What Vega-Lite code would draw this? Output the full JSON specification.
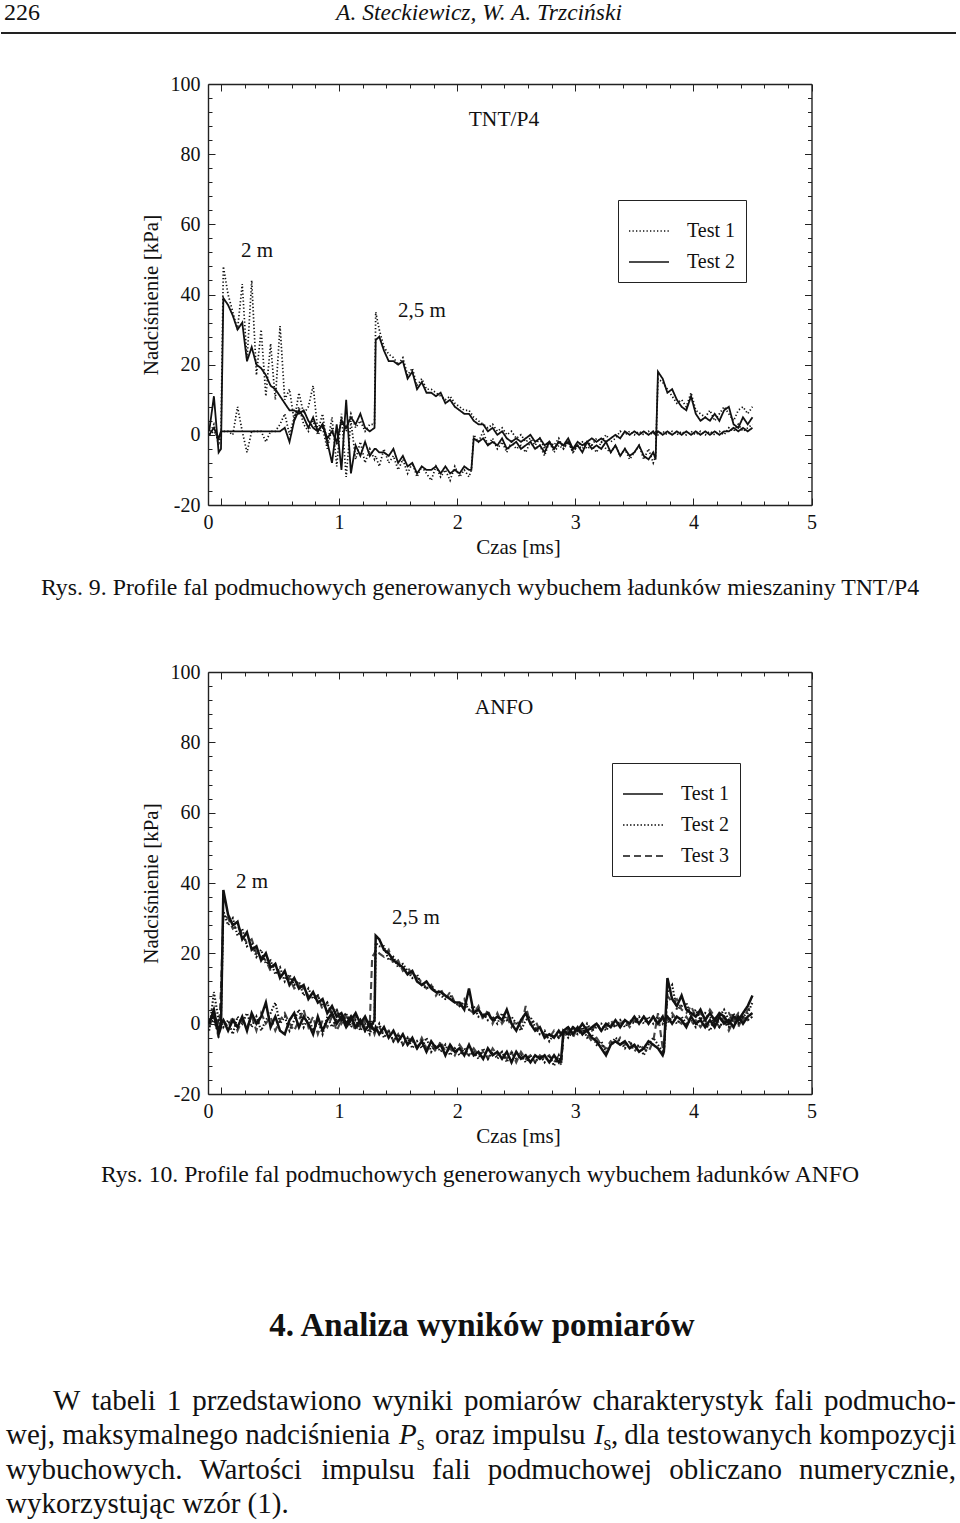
{
"$schema": "https://vega.github.io/schema/vega-lite/v6.json",
"padding": 0,
"background": "white",
"spacing": 0,
"bounds": "flush",
"resolve": {"scale": {"strokeDash": "independent"}, "legend": {"strokeDash": "independent"}},
"config": {
  "font": "Liberation Serif",
  "view": {"stroke": null},
  "axis": {"labelFont": "Liberation Serif", "labelFontSize": 20, "labelColor": "#111", "titleFont": "Liberation Serif", "titleFontSize": 21, "titleFontWeight": "normal", "titleColor": "#111", "domainColor": "#222", "domainWidth": 1.4, "tickColor": "#222", "tickWidth": 1, "grid": false, "labelFlush": false, "labelOverlap": false, "labelBound": false},
  "legend": {"labelFont": "Liberation Serif", "labelFontSize": 20, "labelColor": "#111"},
  "text": {"font": "Liberation Serif", "color": "#111"}
},
"datasets": {
"tnt": [
{"t":-0.10,"a":0,"b":0,"c":1,"d":0},
{"t":-0.06,"a":3,"b":1,"c":11,"d":2},
{"t":-0.02,"a":-3,"b":-1,"c":-5,"d":-1},
{"t":0.00,"a":0,"b":1,"c":-4,"d":1},
{"t":0.02,"a":48,"b":1,"c":39,"d":1},
{"t":0.06,"a":40,"b":1,"c":37,"d":1},
{"t":0.10,"a":35,"b":0,"c":34,"d":1},
{"t":0.14,"a":30,"b":8,"c":30,"d":1},
{"t":0.18,"a":43,"b":1,"c":32,"d":1},
{"t":0.22,"a":21,"b":-5,"c":21,"d":1},
{"t":0.26,"a":44,"b":1,"c":25,"d":1},
{"t":0.30,"a":17,"b":1,"c":20,"d":1},
{"t":0.34,"a":30,"b":1,"c":19,"d":1},
{"t":0.38,"a":11,"b":-2,"c":17,"d":1},
{"t":0.42,"a":26,"b":1,"c":14,"d":1},
{"t":0.46,"a":10,"b":1,"c":13,"d":1},
{"t":0.50,"a":31,"b":3,"c":11,"d":1},
{"t":0.54,"a":10,"b":6,"c":9,"d":2},
{"t":0.58,"a":13,"b":0,"c":7,"d":-2},
{"t":0.62,"a":4,"b":5,"c":7,"d":4},
{"t":0.66,"a":12,"b":8,"c":6,"d":7},
{"t":0.70,"a":6,"b":3,"c":7,"d":5},
{"t":0.74,"a":8,"b":1,"c":4,"d":2},
{"t":0.78,"a":14,"b":4,"c":2,"d":5},
{"t":0.82,"a":1,"b":0,"c":1,"d":1},
{"t":0.86,"a":6,"b":2,"c":3,"d":3},
{"t":0.90,"a":-3,"b":-4,"c":-2,"d":-1},
{"t":0.94,"a":5,"b":2,"c":-8,"d":1},
{"t":0.98,"a":-9,"b":-3,"c":3,"d":-2},
{"t":1.02,"a":6,"b":5,"c":-10,"d":4},
{"t":1.06,"a":-12,"b":1,"c":10,"d":2},
{"t":1.10,"a":4,"b":6,"c":-11,"d":5},
{"t":1.14,"a":-7,"b":2,"c":-3,"d":3},
{"t":1.18,"a":-2,"b":4,"c":-6,"d":6},
{"t":1.22,"a":-8,"b":1,"c":-2,"d":2},
{"t":1.26,"a":-4,"b":3,"c":-6,"d":1},
{"t":1.30,"a":-7,"b":3,"c":-4,"d":2},
{"t":1.31,"a":-6,"b":35,"c":-4,"d":27},
{"t":1.34,"a":-9,"b":30,"c":-5,"d":28},
{"t":1.38,"a":-4,"b":25,"c":-5,"d":24},
{"t":1.42,"a":-8,"b":23,"c":-6,"d":21},
{"t":1.46,"a":-6,"b":22,"c":-4,"d":21},
{"t":1.50,"a":-10,"b":20,"c":-8,"d":20},
{"t":1.54,"a":-7,"b":22,"c":-6,"d":21},
{"t":1.58,"a":-11,"b":17,"c":-9,"d":16},
{"t":1.62,"a":-8,"b":19,"c":-8,"d":18},
{"t":1.66,"a":-12,"b":14,"c":-11,"d":13},
{"t":1.70,"a":-9,"b":16,"c":-9,"d":15},
{"t":1.74,"a":-11,"b":13,"c":-10,"d":12},
{"t":1.78,"a":-13,"b":13,"c":-10,"d":12},
{"t":1.82,"a":-9,"b":12,"c":-9,"d":11},
{"t":1.86,"a":-12,"b":11,"c":-11,"d":12},
{"t":1.90,"a":-10,"b":10,"c":-9,"d":9},
{"t":1.94,"a":-13,"b":11,"c":-11,"d":10},
{"t":1.98,"a":-9,"b":9,"c":-10,"d":8},
{"t":2.02,"a":-12,"b":8,"c":-11,"d":7},
{"t":2.06,"a":-10,"b":7,"c":-9,"d":6},
{"t":2.10,"a":-12,"b":7,"c":-10,"d":6},
{"t":2.12,"a":-10,"b":6,"c":-10,"d":5},
{"t":2.14,"a":0,"b":5,"c":-1,"d":4},
{"t":2.18,"a":-2,"b":4,"c":-2,"d":3},
{"t":2.22,"a":1,"b":3,"c":-1,"d":3},
{"t":2.26,"a":-3,"b":2,"c":-3,"d":1},
{"t":2.30,"a":-1,"b":3,"c":-2,"d":2},
{"t":2.34,"a":-4,"b":1,"c":-3,"d":0},
{"t":2.38,"a":-2,"b":2,"c":-1,"d":1},
{"t":2.42,"a":-5,"b":0,"c":-4,"d":-1},
{"t":2.46,"a":-2,"b":1,"c":-3,"d":-2},
{"t":2.50,"a":-4,"b":-1,"c":-2,"d":-1},
{"t":2.54,"a":-3,"b":0,"c":-4,"d":-2},
{"t":2.58,"a":-5,"b":-2,"c":-3,"d":-1},
{"t":2.62,"a":-2,"b":-1,"c":-2,"d":0},
{"t":2.66,"a":-4,"b":-3,"c":-4,"d":-2},
{"t":2.70,"a":-3,"b":-1,"c":-3,"d":-1},
{"t":2.74,"a":-6,"b":-4,"c":-5,"d":-3},
{"t":2.78,"a":-2,"b":-2,"c":-2,"d":-2},
{"t":2.82,"a":-5,"b":-3,"c":-4,"d":-4},
{"t":2.86,"a":-3,"b":-1,"c":-2,"d":-2},
{"t":2.90,"a":-4,"b":-4,"c":-3,"d":-3},
{"t":2.94,"a":-2,"b":-2,"c":-1,"d":-2},
{"t":2.98,"a":-5,"b":-5,"c":-4,"d":-4},
{"t":3.02,"a":-3,"b":-3,"c":-2,"d":-3},
{"t":3.06,"a":-4,"b":-2,"c":-3,"d":-5},
{"t":3.10,"a":-2,"b":-4,"c":-2,"d":-2},
{"t":3.14,"a":-3,"b":-3,"c":-1,"d":-4},
{"t":3.18,"a":-1,"b":-5,"c":-2,"d":-3},
{"t":3.22,"a":-2,"b":-2,"c":-1,"d":-4},
{"t":3.26,"a":0,"b":-4,"c":-2,"d":-2},
{"t":3.30,"a":-2,"b":-5,"c":-1,"d":-5},
{"t":3.34,"a":-1,"b":-3,"c":0,"d":-3},
{"t":3.38,"a":1,"b":-6,"c":-1,"d":-6},
{"t":3.42,"a":0,"b":-4,"c":1,"d":-4},
{"t":3.46,"a":1,"b":-7,"c":0,"d":-6},
{"t":3.50,"a":0,"b":-5,"c":1,"d":-5},
{"t":3.54,"a":1,"b":-3,"c":0,"d":-3},
{"t":3.58,"a":0,"b":-7,"c":1,"d":-6},
{"t":3.62,"a":1,"b":-4,"c":0,"d":-7},
{"t":3.66,"a":0,"b":-8,"c":1,"d":-5},
{"t":3.68,"a":1,"b":-6,"c":0,"d":-7},
{"t":3.70,"a":0,"b":16,"c":1,"d":18},
{"t":3.74,"a":1,"b":15,"c":0,"d":16},
{"t":3.78,"a":0,"b":13,"c":1,"d":12},
{"t":3.82,"a":1,"b":11,"c":0,"d":13},
{"t":3.86,"a":0,"b":9,"c":1,"d":10},
{"t":3.90,"a":1,"b":10,"c":0,"d":8},
{"t":3.94,"a":0,"b":8,"c":1,"d":7},
{"t":3.98,"a":1,"b":12,"c":0,"d":11},
{"t":4.02,"a":0,"b":7,"c":1,"d":6},
{"t":4.06,"a":1,"b":6,"c":0,"d":4},
{"t":4.10,"a":0,"b":5,"c":1,"d":5},
{"t":4.14,"a":1,"b":7,"c":0,"d":4},
{"t":4.18,"a":0,"b":4,"c":1,"d":6},
{"t":4.22,"a":1,"b":6,"c":0,"d":4},
{"t":4.26,"a":0,"b":8,"c":1,"d":7},
{"t":4.30,"a":2,"b":6,"c":1,"d":8},
{"t":4.34,"a":1,"b":4,"c":2,"d":3},
{"t":4.38,"a":3,"b":7,"c":1,"d":2},
{"t":4.42,"a":1,"b":8,"c":2,"d":5},
{"t":4.46,"a":2,"b":6,"c":1,"d":3},
{"t":4.50,"a":3,"b":8,"c":2,"d":5}
],
"anfo": [
{"t":-0.10,"e":0,"f":1,"g":-2,"h":0,"i":1,"j":-1},
{"t":-0.06,"e":4,"f":2,"g":9,"h":1,"i":2,"j":3},
{"t":-0.02,"e":-3,"f":-2,"g":1,"h":-3,"i":-4,"j":0},
{"t":0.00,"e":-1,"f":0,"g":2,"h":1,"i":10,"j":0},
{"t":0.02,"e":38,"f":1,"g":32,"h":-1,"i":31,"j":1},
{"t":0.06,"e":31,"f":-2,"g":28,"h":1,"i":30,"j":-1},
{"t":0.10,"e":28,"f":1,"g":30,"h":-3,"i":27,"j":2},
{"t":0.14,"e":29,"f":-1,"g":25,"h":2,"i":28,"j":-2},
{"t":0.18,"e":24,"f":2,"g":27,"h":0,"i":25,"j":1},
{"t":0.22,"e":26,"f":-2,"g":22,"h":3,"i":23,"j":-1},
{"t":0.26,"e":21,"f":3,"g":23,"h":-1,"i":24,"j":2},
{"t":0.30,"e":22,"f":0,"g":19,"h":2,"i":20,"j":-2},
{"t":0.34,"e":18,"f":2,"g":21,"h":-2,"i":19,"j":3},
{"t":0.38,"e":20,"f":6,"g":17,"h":1,"i":18,"j":0},
{"t":0.42,"e":16,"f":-1,"g":18,"h":3,"i":15,"j":2},
{"t":0.46,"e":17,"f":2,"g":14,"h":6,"i":17,"j":-2},
{"t":0.50,"e":13,"f":-2,"g":16,"h":0,"i":14,"j":1},
{"t":0.54,"e":15,"f":-3,"g":12,"h":2,"i":13,"j":3},
{"t":0.58,"e":11,"f":1,"g":14,"h":-2,"i":13,"j":0},
{"t":0.62,"e":13,"f":3,"g":11,"h":1,"i":10,"j":-2},
{"t":0.66,"e":10,"f":-1,"g":12,"h":4,"i":11,"j":1},
{"t":0.70,"e":11,"f":2,"g":8,"h":-1,"i":10,"j":4},
{"t":0.74,"e":7,"f":0,"g":10,"h":2,"i":8,"j":-1},
{"t":0.78,"e":9,"f":-3,"g":7,"h":-2,"i":7,"j":2},
{"t":0.82,"e":6,"f":2,"g":8,"h":1,"i":8,"j":-3},
{"t":0.86,"e":7,"f":-2,"g":5,"h":-3,"i":4,"j":1},
{"t":0.90,"e":3,"f":1,"g":6,"h":2,"i":6,"j":-1},
{"t":0.94,"e":5,"f":3,"g":2,"h":-1,"i":3,"j":2},
{"t":0.98,"e":2,"f":0,"g":4,"h":1,"i":4,"j":-2},
{"t":1.02,"e":3,"f":2,"g":1,"h":3,"i":0,"j":1},
{"t":1.06,"e":0,"f":-1,"g":3,"h":0,"i":2,"j":3},
{"t":1.10,"e":2,"f":1,"g":-1,"h":2,"i":1,"j":0},
{"t":1.14,"e":-1,"f":3,"g":1,"h":-1,"i":-2,"j":2},
{"t":1.18,"e":1,"f":0,"g":-2,"h":1,"i":1,"j":-1},
{"t":1.22,"e":-2,"f":2,"g":0,"h":-2,"i":-1,"j":1},
{"t":1.26,"e":0,"f":-1,"g":-3,"h":1,"i":-2,"j":0},
{"t":1.28,"e":-1,"f":0,"g":-1,"h":0,"i":-1,"j":19},
{"t":1.30,"e":-2,"f":1,"g":-2,"h":0,"i":-3,"j":20},
{"t":1.31,"e":-1,"f":25,"g":-2,"h":23,"i":-2,"j":21},
{"t":1.34,"e":-3,"f":24,"g":0,"h":22,"i":-1,"j":20},
{"t":1.38,"e":-1,"f":21,"g":-4,"h":22,"i":-3,"j":19},
{"t":1.42,"e":-4,"f":20,"g":-2,"h":18,"i":-2,"j":21},
{"t":1.46,"e":-2,"f":18,"g":-5,"h":19,"i":-5,"j":17},
{"t":1.50,"e":-5,"f":17,"g":-3,"h":16,"i":-3,"j":18},
{"t":1.54,"e":-3,"f":16,"g":-6,"h":17,"i":-6,"j":15},
{"t":1.58,"e":-6,"f":14,"g":-4,"h":15,"i":-4,"j":16},
{"t":1.62,"e":-4,"f":15,"g":-7,"h":13,"i":-5,"j":14},
{"t":1.66,"e":-7,"f":12,"g":-5,"h":14,"i":-7,"j":13},
{"t":1.70,"e":-5,"f":11,"g":-7,"h":11,"i":-4,"j":12},
{"t":1.74,"e":-8,"f":12,"g":-4,"h":10,"i":-7,"j":10},
{"t":1.78,"e":-5,"f":10,"g":-8,"h":11,"i":-6,"j":11},
{"t":1.82,"e":-7,"f":9,"g":-6,"h":9,"i":-8,"j":8},
{"t":1.86,"e":-6,"f":9,"g":-8,"h":8,"i":-5,"j":10},
{"t":1.90,"e":-9,"f":8,"g":-6,"h":7,"i":-8,"j":7},
{"t":1.94,"e":-6,"f":7,"g":-9,"h":8,"i":-7,"j":9},
{"t":1.98,"e":-8,"f":6,"g":-7,"h":6,"i":-9,"j":6},
{"t":2.02,"e":-7,"f":6,"g":-9,"h":5,"i":-6,"j":5},
{"t":2.06,"e":-9,"f":4,"g":-7,"h":6,"i":-8,"j":7},
{"t":2.10,"e":-6,"f":10,"g":-9,"h":4,"i":-9,"j":4},
{"t":2.14,"e":-9,"f":3,"g":-8,"h":5,"i":-7,"j":3},
{"t":2.18,"e":-8,"f":4,"g":-10,"h":2,"i":-9,"j":5},
{"t":2.22,"e":-10,"f":2,"g":-7,"h":3,"i":-8,"j":1},
{"t":2.26,"e":-7,"f":3,"g":-10,"h":1,"i":-10,"j":4},
{"t":2.30,"e":-9,"f":1,"g":-8,"h":2,"i":-7,"j":0},
{"t":2.34,"e":-8,"f":2,"g":-10,"h":0,"i":-9,"j":3},
{"t":2.38,"e":-10,"f":1,"g":-8,"h":3,"i":-8,"j":0},
{"t":2.42,"e":-8,"f":4,"g":-11,"h":1,"i":-10,"j":2},
{"t":2.46,"e":-11,"f":0,"g":-8,"h":2,"i":-8,"j":-1},
{"t":2.50,"e":-8,"f":-2,"g":-10,"h":0,"i":-11,"j":1},
{"t":2.54,"e":-10,"f":1,"g":-9,"h":-2,"i":-8,"j":-1},
{"t":2.58,"e":-9,"f":3,"g":-11,"h":1,"i":-10,"j":5},
{"t":2.62,"e":-11,"f":0,"g":-9,"h":2,"i":-9,"j":0},
{"t":2.66,"e":-9,"f":-2,"g":-11,"h":-1,"i":-11,"j":1},
{"t":2.70,"e":-10,"f":-1,"g":-9,"h":-3,"i":-9,"j":-2},
{"t":2.74,"e":-9,"f":-4,"g":-11,"h":-2,"i":-10,"j":-3},
{"t":2.78,"e":-11,"f":-3,"g":-9,"h":-5,"i":-9,"j":-4},
{"t":2.82,"e":-9,"f":-4,"g":-12,"h":-3,"i":-11,"j":-2},
{"t":2.86,"e":-11,"f":-2,"g":-9,"h":-4,"i":-9,"j":-4},
{"t":2.88,"e":-10,"f":-3,"g":-11,"h":-3,"i":-12,"j":-3},
{"t":2.90,"e":-2,"f":-2,"g":-3,"h":-2,"i":-3,"j":-3},
{"t":2.94,"e":-3,"f":-1,"g":-1,"h":-4,"i":-2,"j":-2},
{"t":2.98,"e":-1,"f":-3,"g":-3,"h":-2,"i":-4,"j":-1},
{"t":3.02,"e":-2,"f":-1,"g":-1,"h":-3,"i":-1,"j":-3},
{"t":3.06,"e":0,"f":-3,"g":-3,"h":-1,"i":-3,"j":-2},
{"t":3.10,"e":-2,"f":-2,"g":0,"h":-4,"i":-1,"j":-3},
{"t":3.14,"e":-1,"f":-4,"g":-2,"h":-3,"i":-2,"j":-5},
{"t":3.18,"e":0,"f":-5,"g":-1,"h":-6,"i":0,"j":-4},
{"t":3.22,"e":-2,"f":-7,"g":0,"h":-5,"i":-2,"j":-6},
{"t":3.26,"e":0,"f":-9,"g":-2,"h":-8,"i":-1,"j":-7},
{"t":3.30,"e":-1,"f":-6,"g":0,"h":-6,"i":1,"j":-5},
{"t":3.34,"e":1,"f":-5,"g":-1,"h":-4,"i":-1,"j":-6},
{"t":3.38,"e":-1,"f":-6,"g":1,"h":-5,"i":0,"j":-4},
{"t":3.42,"e":1,"f":-5,"g":-1,"h":-7,"i":1,"j":-6},
{"t":3.46,"e":0,"f":-7,"g":1,"h":-5,"i":-1,"j":-5},
{"t":3.50,"e":2,"f":-6,"g":0,"h":-7,"i":1,"j":-8},
{"t":3.54,"e":0,"f":-8,"g":2,"h":-6,"i":0,"j":-6},
{"t":3.58,"e":2,"f":-7,"g":0,"h":-9,"i":2,"j":-7},
{"t":3.62,"e":0,"f":-5,"g":2,"h":-6,"i":0,"j":-8},
{"t":3.66,"e":2,"f":-6,"g":0,"h":-4,"i":2,"j":-5},
{"t":3.70,"e":0,"f":-7,"g":2,"h":-6,"i":0,"j":3},
{"t":3.74,"e":2,"f":-9,"g":0,"h":-8,"i":2,"j":-7},
{"t":3.75,"e":1,"f":-8,"g":1,"h":-8,"i":1,"j":-8},
{"t":3.78,"e":2,"f":13,"g":0,"h":9,"i":1,"j":8},
{"t":3.82,"e":0,"f":7,"g":2,"h":11,"i":3,"j":6},
{"t":3.86,"e":2,"f":5,"g":0,"h":4,"i":1,"j":7},
{"t":3.90,"e":1,"f":8,"g":2,"h":5,"i":0,"j":4},
{"t":3.94,"e":-1,"f":4,"g":0,"h":6,"i":2,"j":3},
{"t":3.98,"e":2,"f":3,"g":1,"h":2,"i":0,"j":5},
{"t":4.02,"e":0,"f":2,"g":-1,"h":4,"i":1,"j":2},
{"t":4.06,"e":1,"f":4,"g":2,"h":1,"i":-1,"j":3},
{"t":4.10,"e":-1,"f":1,"g":0,"h":3,"i":1,"j":1},
{"t":4.14,"e":1,"f":3,"g":-2,"h":2,"i":-1,"j":4},
{"t":4.18,"e":-1,"f":1,"g":1,"h":0,"i":1,"j":2},
{"t":4.22,"e":2,"f":3,"g":-1,"h":2,"i":-1,"j":0},
{"t":4.26,"e":0,"f":2,"g":1,"h":4,"i":1,"j":2},
{"t":4.30,"e":1,"f":0,"g":-1,"h":1,"i":-2,"j":3},
{"t":4.34,"e":-1,"f":2,"g":2,"h":3,"i":1,"j":1},
{"t":4.38,"e":2,"f":1,"g":0,"h":0,"i":-1,"j":3},
{"t":4.42,"e":0,"f":3,"g":2,"h":2,"i":2,"j":1},
{"t":4.46,"e":2,"f":5,"g":1,"h":3,"i":1,"j":4},
{"t":4.50,"e":3,"f":8,"g":2,"h":6,"i":2,"j":5}
]
},
"vconcat": [
{
 "width": 960, "height": 84,
 "data": {"values": [{}]},
 "layer": [
  {"mark": {"type": "text", "text": "226", "fontSize": 24, "align": "left", "baseline": "alphabetic"},
   "encoding": {"x": {"datum": 3, "type": "quantitative", "scale": {"domain": [0, 960], "nice": false, "zero": false}, "axis": null}, "y": {"datum": 20, "type": "quantitative", "scale": {"domain": [0, 84], "nice": false, "zero": false, "reverse": true}, "axis": null}}},
  {"mark": {"type": "text", "text": "A. Steckiewicz, W. A. Trzciński", "fontSize": 23.5, "fontStyle": "italic", "align": "center", "baseline": "alphabetic"},
   "encoding": {"x": {"datum": 478, "type": "quantitative", "axis": null}, "y": {"datum": 20, "type": "quantitative", "axis": null}}},
  {"mark": {"type": "rule", "strokeWidth": 1.8, "color": "#222"},
   "encoding": {"x": {"datum": 0, "type": "quantitative", "axis": null}, "x2": {"datum": 955}, "y": {"datum": 33, "type": "quantitative", "axis": null}}}
 ]
},
{
 "width": 960, "height": 421,
 "layer": [
  {"data": {"name": "tnt"}, "transform": [{"fold": ["a", "b"]}],
   "mark": {"type": "line", "color": "#111", "strokeWidth": 1.7},
   "encoding": {
    "x": {"field": "t", "type": "quantitative", "scale": {"domain": [-0.11, 5], "range": [207, 810.5], "nice": false, "zero": false},
          "axis": {"orient": "bottom", "values": [-0.11, 1, 2, 3, 4, 5], "format": "d", "labelExpr": "datum.value < 0 ? '0' : datum.label", "ticks": false, "labelPadding": 7, "domain": true, "title": "Czas [ms]", "titlePadding": 4, "titleX": 517}},
    "y": {"field": "value", "type": "quantitative", "scale": {"domain": [-20, 100], "nice": false, "zero": false},
          "axis": {"orient": "left", "offset": -207, "values": [-20, 0, 20, 40, 60, 80, 100], "format": "d", "labelExpr": "datum.value < 0 ? '-' + format(-datum.value, 'd') : datum.label", "ticks": false, "labelPadding": 8, "domain": true, "title": "Nadciśnienie [kPa]", "titlePadding": 9}},
    "detail": {"field": "key"},
    "strokeDash": {"datum": "Test 1", "type": "nominal", "scale": {"domain": ["Test 1", "Test 2"], "range": [[1.3, 2.2], [1, 0]]},
                   "legend": {"orient": "none", "legendX": 617, "legendY": 116, "title": null, "padding": 10, "strokeColor": "#222", "fillColor": "white", "symbolType": "stroke", "symbolSize": 1600, "symbolStrokeWidth": 1.4, "symbolStrokeColor": "#111", "labelOffset": 17, "rowPadding": -12}}
   }},
  {"data": {"name": "tnt"}, "transform": [{"fold": ["c", "d"]}],
   "mark": {"type": "line", "color": "#111", "strokeWidth": 1.8},
   "encoding": {
    "x": {"field": "t", "type": "quantitative", "axis": {"orient": "bottom", "values": [0, 1, 2, 3, 4, 5], "labels": false, "tickSize": -7, "domain": false, "title": null}},
    "y": {"field": "value", "type": "quantitative", "axis": {"orient": "left", "offset": -207, "values": [-20, 0, 20, 40, 60, 80, 100], "labels": false, "tickSize": -7, "domain": false, "title": null}},
    "detail": {"field": "key"},
    "strokeDash": {"datum": "Test 2", "type": "nominal"}
   }},
  {"data": {"values": [{}]},
   "mark": {"type": "text", "text": "TNT/P4", "fontSize": 21.5, "align": "center", "baseline": "middle"},
   "encoding": {
    "x": {"datum": 2.396, "type": "quantitative", "axis": {"orient": "bottom", "values": [0.2, 0.4, 0.6, 0.8, 1.2, 1.4, 1.6, 1.8, 2.2, 2.4, 2.6, 2.8, 3.2, 3.4, 3.6, 3.8, 4.2, 4.4, 4.6, 4.8], "labels": false, "tickSize": -4, "domain": false, "title": null}},
    "y": {"datum": 89.7, "type": "quantitative", "axis": {"orient": "left", "offset": -207, "values": [-16, -12, -8, -4, 4, 8, 12, 16, 24, 28, 32, 36, 44, 48, 52, 56, 64, 68, 72, 76, 84, 88, 92, 96], "labels": false, "tickSize": -4, "domain": false, "title": null}}
   }},
  {"data": {"values": [{}]},
   "mark": {"type": "text", "text": "2 m", "fontSize": 21, "align": "center", "baseline": "middle"},
   "encoding": {
    "x": {"datum": 0.305, "type": "quantitative", "axis": {"orient": "top", "values": [0, 1, 2, 3, 4, 5], "labels": false, "tickSize": -7, "domain": true, "title": null}},
    "y": {"datum": 52.4, "type": "quantitative", "axis": {"orient": "right", "offset": -149.5, "values": [-20, 0, 20, 40, 60, 80, 100], "labels": false, "tickSize": -7, "domain": true, "title": null}}
   }},
  {"data": {"values": [{}]},
   "mark": {"type": "text", "text": "2,5 m", "fontSize": 21, "align": "center", "baseline": "middle"},
   "encoding": {
    "x": {"datum": 1.702, "type": "quantitative", "axis": {"orient": "top", "values": [0.2, 0.4, 0.6, 0.8, 1.2, 1.4, 1.6, 1.8, 2.2, 2.4, 2.6, 2.8, 3.2, 3.4, 3.6, 3.8, 4.2, 4.4, 4.6, 4.8], "labels": false, "tickSize": -4, "domain": false, "title": null}},
    "y": {"datum": 35.3, "type": "quantitative", "axis": {"orient": "right", "offset": -149.5, "values": [-16, -12, -8, -4, 4, 8, 12, 16, 24, 28, 32, 36, 44, 48, 52, 56, 64, 68, 72, 76, 84, 88, 92, 96], "labels": false, "tickSize": -4, "domain": false, "title": null}}
   }}
 ],
 "resolve": {"axis": {"x": "independent", "y": "independent"}}
},
{
 "width": 960, "height": 167,
 "data": {"values": [{}]},
 "layer": [
  {"mark": {"type": "text", "text": "Rys. 9. Profile fal podmuchowych generowanych wybuchem ładunków mieszaniny TNT/P4", "fontSize": 23.8, "align": "center", "baseline": "alphabetic"},
   "encoding": {"x": {"datum": 479, "type": "quantitative", "scale": {"domain": [0, 960], "nice": false, "zero": false}, "axis": null}, "y": {"datum": 90, "type": "quantitative", "scale": {"domain": [0, 167], "nice": false, "zero": false, "reverse": true}, "axis": null}}}
 ]
},
{
 "width": 960, "height": 422,
 "layer": [
  {"data": {"name": "anfo"}, "transform": [{"fold": ["i", "j"]}],
   "mark": {"type": "line", "color": "#444", "strokeWidth": 2.1},
   "encoding": {
    "x": {"field": "t", "type": "quantitative", "scale": {"domain": [-0.11, 5], "range": [207, 810.5], "nice": false, "zero": false},
          "axis": {"orient": "bottom", "values": [-0.11, 1, 2, 3, 4, 5], "format": "d", "labelExpr": "datum.value < 0 ? '0' : datum.label", "ticks": false, "labelPadding": 7, "domain": true, "title": "Czas [ms]", "titlePadding": 4, "titleX": 517}},
    "y": {"field": "value", "type": "quantitative", "scale": {"domain": [-20, 100], "nice": false, "zero": false},
          "axis": {"orient": "left", "offset": -207, "values": [-20, 0, 20, 40, 60, 80, 100], "format": "d", "labelExpr": "datum.value < 0 ? '-' + format(-datum.value, 'd') : datum.label", "ticks": false, "labelPadding": 8, "domain": true, "title": "Nadciśnienie [kPa]", "titlePadding": 9}},
    "detail": {"field": "key"},
    "strokeDash": {"datum": "Test 3", "type": "nominal", "scale": {"domain": ["Test 1", "Test 2", "Test 3"], "range": [[1, 0], [1.5, 2], [7, 4]]},
                   "legend": {"orient": "none", "legendX": 611, "legendY": 91, "title": null, "padding": 10, "strokeColor": "#222", "fillColor": "white", "symbolType": "stroke", "symbolSize": 1600, "symbolStrokeWidth": 1.4, "symbolStrokeColor": "#111", "labelOffset": 17, "rowPadding": -12}}
   }},
  {"data": {"name": "anfo"}, "transform": [{"fold": ["g", "h"]}],
   "mark": {"type": "line", "color": "#111", "strokeWidth": 2.1},
   "encoding": {
    "x": {"field": "t", "type": "quantitative", "axis": {"orient": "bottom", "values": [0, 1, 2, 3, 4, 5], "labels": false, "tickSize": -7, "domain": false, "title": null}},
    "y": {"field": "value", "type": "quantitative", "axis": {"orient": "left", "offset": -207, "values": [-20, 0, 20, 40, 60, 80, 100], "labels": false, "tickSize": -7, "domain": false, "title": null}},
    "detail": {"field": "key"},
    "strokeDash": {"datum": "Test 2", "type": "nominal"}
   }},
  {"data": {"name": "anfo"}, "transform": [{"fold": ["e", "f"]}],
   "mark": {"type": "line", "color": "#111", "strokeWidth": 2.5},
   "encoding": {
    "x": {"field": "t", "type": "quantitative", "axis": {"orient": "bottom", "values": [0.2, 0.4, 0.6, 0.8, 1.2, 1.4, 1.6, 1.8, 2.2, 2.4, 2.6, 2.8, 3.2, 3.4, 3.6, 3.8, 4.2, 4.4, 4.6, 4.8], "labels": false, "tickSize": -4, "domain": false, "title": null}},
    "y": {"field": "value", "type": "quantitative", "axis": {"orient": "left", "offset": -207, "values": [-16, -12, -8, -4, 4, 8, 12, 16, 24, 28, 32, 36, 44, 48, 52, 56, 64, 68, 72, 76, 84, 88, 92, 96], "labels": false, "tickSize": -4, "domain": false, "title": null}},
    "detail": {"field": "key"},
    "strokeDash": {"datum": "Test 1", "type": "nominal"}
   }},
  {"data": {"values": [{}]},
   "mark": {"type": "text", "text": "ANFO", "fontSize": 21.5, "align": "center", "baseline": "middle"},
   "encoding": {
    "x": {"datum": 2.396, "type": "quantitative", "axis": {"orient": "top", "values": [0, 1, 2, 3, 4, 5], "labels": false, "tickSize": -7, "domain": true, "title": null}},
    "y": {"datum": 89.8, "type": "quantitative", "axis": {"orient": "right", "offset": -149.5, "values": [-20, 0, 20, 40, 60, 80, 100], "labels": false, "tickSize": -7, "domain": true, "title": null}}
   }},
  {"data": {"values": [{}]},
   "mark": {"type": "text", "text": "2 m", "fontSize": 21, "align": "center", "baseline": "middle"},
   "encoding": {
    "x": {"datum": 0.263, "type": "quantitative", "axis": {"orient": "top", "values": [0.2, 0.4, 0.6, 0.8, 1.2, 1.4, 1.6, 1.8, 2.2, 2.4, 2.6, 2.8, 3.2, 3.4, 3.6, 3.8, 4.2, 4.4, 4.6, 4.8], "labels": false, "tickSize": -4, "domain": false, "title": null}},
    "y": {"datum": 40.3, "type": "quantitative", "axis": {"orient": "right", "offset": -149.5, "values": [-16, -12, -8, -4, 4, 8, 12, 16, 24, 28, 32, 36, 44, 48, 52, 56, 64, 68, 72, 76, 84, 88, 92, 96], "labels": false, "tickSize": -4, "domain": false, "title": null}}
   }},
  {"data": {"values": [{}]},
   "mark": {"type": "text", "text": "2,5 m", "fontSize": 21, "align": "center", "baseline": "middle"},
   "encoding": {
    "x": {"datum": 1.651, "type": "quantitative", "axis": null},
    "y": {"datum": 30.1, "type": "quantitative", "axis": null}
   }}
 ],
 "resolve": {"axis": {"x": "independent", "y": "independent"}}
},
{
 "width": 960, "height": 429,
 "data": {"values": [{}]},
 "layer": [
  {"mark": {"type": "text", "text": "Rys. 10. Profile fal podmuchowych generowanych wybuchem ładunków ANFO", "fontSize": 23.7, "align": "center", "baseline": "alphabetic"},
   "encoding": {"x": {"datum": 479, "type": "quantitative", "scale": {"domain": [0, 960], "nice": false, "zero": false}, "axis": null}, "y": {"datum": 88, "type": "quantitative", "scale": {"domain": [0, 429], "nice": false, "zero": false, "reverse": true}, "axis": null}}},
  {"mark": {"type": "text", "text": "4. Analiza wyników pomiarów", "fontSize": 33, "fontWeight": "bold", "align": "center", "baseline": "alphabetic"},
   "encoding": {"x": {"datum": 481, "type": "quantitative", "axis": null}, "y": {"datum": 242, "type": "quantitative", "axis": null}}},
  {"mark": {"type": "text", "text": "W", "fontSize": 29, "align": "left", "baseline": "alphabetic"},
   "encoding": {"x": {"datum": 52, "type": "quantitative", "axis": null}, "y": {"datum": 316, "type": "quantitative", "axis": null}}},
  {"mark": {"type": "text", "text": "tabeli", "fontSize": 29, "align": "left", "baseline": "alphabetic"},
   "encoding": {"x": {"datum": 90.4, "type": "quantitative", "axis": null}, "y": {"datum": 316, "type": "quantitative", "axis": null}}},
  {"mark": {"type": "text", "text": "1", "fontSize": 29, "align": "left", "baseline": "alphabetic"},
   "encoding": {"x": {"datum": 165.8, "type": "quantitative", "axis": null}, "y": {"datum": 316, "type": "quantitative", "axis": null}}},
  {"mark": {"type": "text", "text": "przedstawiono", "fontSize": 29, "align": "left", "baseline": "alphabetic"},
   "encoding": {"x": {"datum": 191.3, "type": "quantitative", "axis": null}, "y": {"datum": 316, "type": "quantitative", "axis": null}}},
  {"mark": {"type": "text", "text": "wyniki", "fontSize": 29, "align": "left", "baseline": "alphabetic"},
   "encoding": {"x": {"datum": 371.4, "type": "quantitative", "axis": null}, "y": {"datum": 316, "type": "quantitative", "axis": null}}},
  {"mark": {"type": "text", "text": "pomiarów", "fontSize": 29, "align": "left", "baseline": "alphabetic"},
   "encoding": {"x": {"datum": 463, "type": "quantitative", "axis": null}, "y": {"datum": 316, "type": "quantitative", "axis": null}}},
  {"mark": {"type": "text", "text": "charakterystyk", "fontSize": 29, "align": "left", "baseline": "alphabetic"},
   "encoding": {"x": {"datum": 591.6, "type": "quantitative", "axis": null}, "y": {"datum": 316, "type": "quantitative", "axis": null}}},
  {"mark": {"type": "text", "text": "fali", "fontSize": 29, "align": "left", "baseline": "alphabetic"},
   "encoding": {"x": {"datum": 773.3, "type": "quantitative", "axis": null}, "y": {"datum": 316, "type": "quantitative", "axis": null}}},
  {"mark": {"type": "text", "text": "podmucho-", "fontSize": 29, "align": "right", "baseline": "alphabetic"},
   "encoding": {"x": {"datum": 955, "type": "quantitative", "axis": null}, "y": {"datum": 316, "type": "quantitative", "axis": null}}},
  {"mark": {"type": "text", "text": "wej, maksymalnego nadciśnienia", "fontSize": 29, "align": "left", "baseline": "alphabetic"},
   "encoding": {"x": {"datum": 5, "type": "quantitative", "axis": null}, "y": {"datum": 350, "type": "quantitative", "axis": null}}},
  {"mark": {"type": "text", "text": "P", "fontSize": 29, "fontStyle": "italic", "align": "left", "baseline": "alphabetic"},
   "encoding": {"x": {"datum": 398, "type": "quantitative", "axis": null}, "y": {"datum": 350, "type": "quantitative", "axis": null}}},
  {"mark": {"type": "text", "text": "s", "fontSize": 20, "align": "left", "baseline": "alphabetic"},
   "encoding": {"x": {"datum": 415.7, "type": "quantitative", "axis": null}, "y": {"datum": 356, "type": "quantitative", "axis": null}}},
  {"mark": {"type": "text", "text": "oraz impulsu", "fontSize": 29, "align": "left", "baseline": "alphabetic"},
   "encoding": {"x": {"datum": 434, "type": "quantitative", "axis": null}, "y": {"datum": 350, "type": "quantitative", "axis": null}}},
  {"mark": {"type": "text", "text": "I", "fontSize": 29, "fontStyle": "italic", "align": "left", "baseline": "alphabetic"},
   "encoding": {"x": {"datum": 593, "type": "quantitative", "axis": null}, "y": {"datum": 350, "type": "quantitative", "axis": null}}},
  {"mark": {"type": "text", "text": "s", "fontSize": 20, "align": "left", "baseline": "alphabetic"},
   "encoding": {"x": {"datum": 602.5, "type": "quantitative", "axis": null}, "y": {"datum": 356, "type": "quantitative", "axis": null}}},
  {"mark": {"type": "text", "text": ",", "fontSize": 29, "align": "left", "baseline": "alphabetic"},
   "encoding": {"x": {"datum": 610, "type": "quantitative", "axis": null}, "y": {"datum": 350, "type": "quantitative", "axis": null}}},
  {"mark": {"type": "text", "text": "dla testowanych kompozycji", "fontSize": 29, "align": "right", "baseline": "alphabetic"},
   "encoding": {"x": {"datum": 955, "type": "quantitative", "axis": null}, "y": {"datum": 350, "type": "quantitative", "axis": null}}},
  {"mark": {"type": "text", "text": "wybuchowych.", "fontSize": 29, "align": "left", "baseline": "alphabetic"},
   "encoding": {"x": {"datum": 5, "type": "quantitative", "axis": null}, "y": {"datum": 385, "type": "quantitative", "axis": null}}},
  {"mark": {"type": "text", "text": "Wartości", "fontSize": 29, "align": "left", "baseline": "alphabetic"},
   "encoding": {"x": {"datum": 198.5, "type": "quantitative", "axis": null}, "y": {"datum": 385, "type": "quantitative", "axis": null}}},
  {"mark": {"type": "text", "text": "impulsu", "fontSize": 29, "align": "left", "baseline": "alphabetic"},
   "encoding": {"x": {"datum": 320.4, "type": "quantitative", "axis": null}, "y": {"datum": 385, "type": "quantitative", "axis": null}}},
  {"mark": {"type": "text", "text": "fali", "fontSize": 29, "align": "left", "baseline": "alphabetic"},
   "encoding": {"x": {"datum": 431, "type": "quantitative", "axis": null}, "y": {"datum": 385, "type": "quantitative", "axis": null}}},
  {"mark": {"type": "text", "text": "podmuchowej", "fontSize": 29, "align": "left", "baseline": "alphabetic"},
   "encoding": {"x": {"datum": 486.8, "type": "quantitative", "axis": null}, "y": {"datum": 385, "type": "quantitative", "axis": null}}},
  {"mark": {"type": "text", "text": "obliczano", "fontSize": 29, "align": "left", "baseline": "alphabetic"},
   "encoding": {"x": {"datum": 668.3, "type": "quantitative", "axis": null}, "y": {"datum": 385, "type": "quantitative", "axis": null}}},
  {"mark": {"type": "text", "text": "numerycznie,", "fontSize": 29, "align": "right", "baseline": "alphabetic"},
   "encoding": {"x": {"datum": 955, "type": "quantitative", "axis": null}, "y": {"datum": 385, "type": "quantitative", "axis": null}}},
  {"mark": {"type": "text", "text": "wykorzystując wzór (1).", "fontSize": 29, "align": "left", "baseline": "alphabetic"},
   "encoding": {"x": {"datum": 5, "type": "quantitative", "axis": null}, "y": {"datum": 419, "type": "quantitative", "axis": null}}}
 ]
}
]
}
